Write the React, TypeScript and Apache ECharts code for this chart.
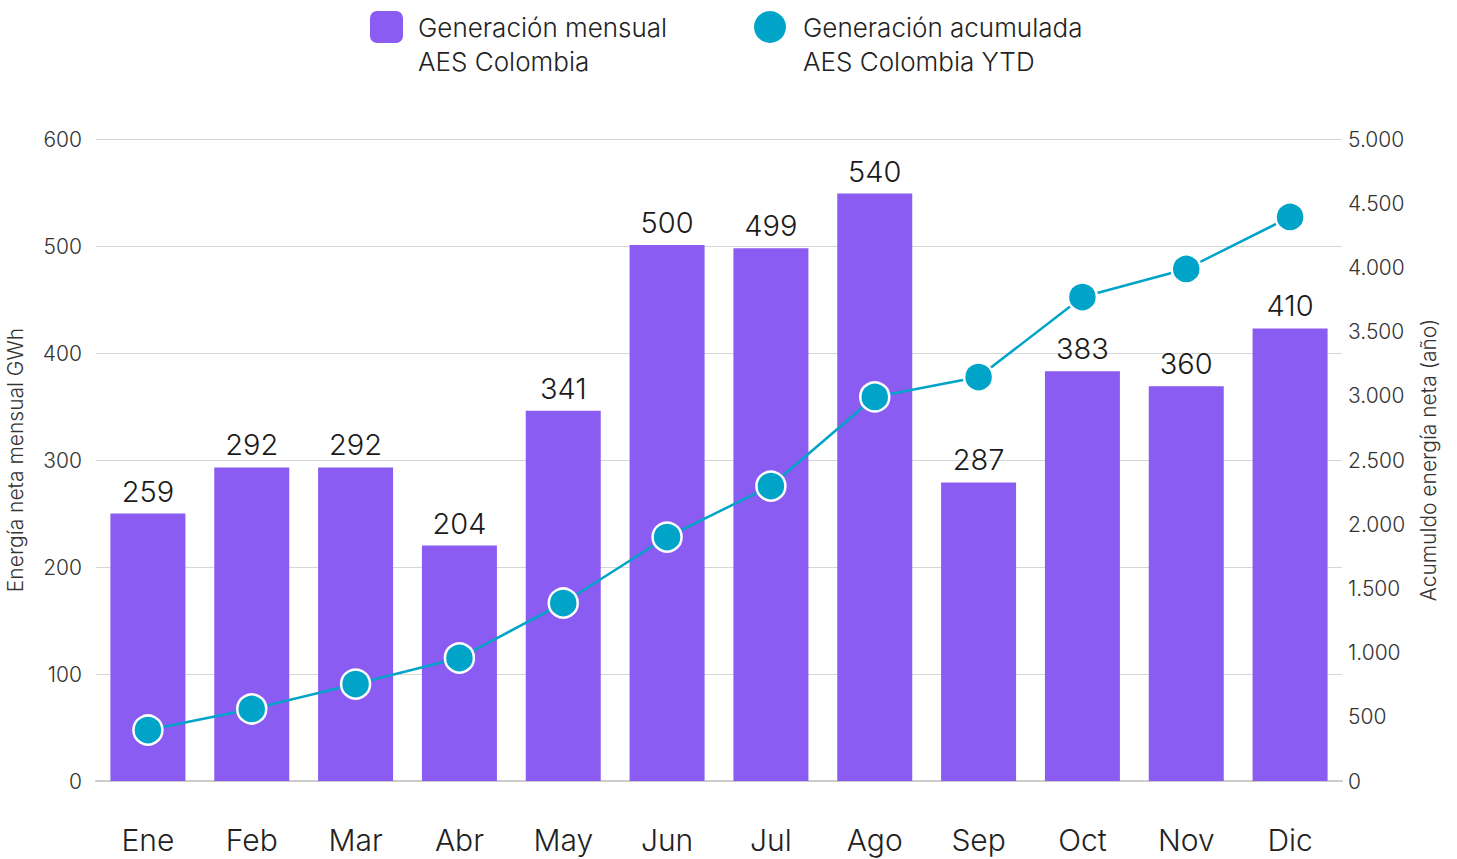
import React, { useEffect, useRef } from "react";
import * as echarts from "echarts";

const months = ["Ene", "Feb", "Mar", "Abr", "May", "Jun", "Jul", "Ago", "Sep", "Oct", "Nov", "Dic"];
// bar heights as drawn in the reference (GWh)
const monthlyBars = [250, 293, 293, 220, 346, 501, 498, 549, 279, 383, 369, 423];
// printed labels above the bars
const monthlyLabels = ["259", "292", "292", "204", "341", "500", "499", "540", "287", "383", "360", "410"];
// cumulative YTD (GWh)
const cumulative = [397, 561, 755, 958, 1386, 1900, 2297, 2991, 3146, 3769, 3988, 4393];
const leftTicks = { min: 0, max: 600, interval: 100 };
const rightTicks = { min: 0, max: 5000, interval: 500 };

const PURPLE = "#8B5CF1";
const CYAN = "#00A4C8";
const FONT = "Inter, 'Helvetica Neue', Arial, sans-serif";

export default function App() {
  const ref = useRef<HTMLDivElement>(null);
  useEffect(() => {
    document.body.style.margin = "0";
    const chart = echarts.init(ref.current!, null, { renderer: "svg" });
    chart.setOption({
      animation: false,
      textStyle: { fontFamily: FONT, fontWeight: 300 },
      grid: { left: 96, right: 115, top: 139, bottom: 78, outerBoundsMode: "none", containLabel: false },
      graphic: [
        { type: "rect", left: 370, top: 11, shape: { width: 33, height: 32, r: 7 }, style: { fill: PURPLE } },
        {
          type: "text", left: 418, top: 10,
          style: { text: "Generación mensual\nAES Colombia", fontSize: 26, lineHeight: 34, fill: "#222", fontFamily: FONT, fontWeight: 300 },
        },
        { type: "circle", shape: { cx: 770, cy: 27, r: 16 }, style: { fill: CYAN } },
        {
          type: "text", left: 803, top: 10,
          style: { text: "Generación acumulada\nAES Colombia YTD", fontSize: 26, lineHeight: 34, fill: "#222", fontFamily: FONT, fontWeight: 300 },
        },
      ],
      xAxis: {
        type: "category",
        data: months,
        axisTick: { show: false },
        axisLine: { lineStyle: { color: "#cccccc", width: 2 } },
        axisLabel: { fontSize: 30, color: "#222", margin: 44, fontFamily: FONT, fontWeight: 300 },
      },
      yAxis: [
        {
          type: "value",
          ...leftTicks,
          name: "Energía neta mensual GWh",
          nameLocation: "middle",
          nameGap: 70,
          nameTextStyle: { fontSize: 21, color: "#333", fontFamily: FONT, fontWeight: 300 },
          axisLabel: { fontSize: 21, color: "#333", margin: 14, fontFamily: FONT, fontWeight: 300 },
          splitLine: { lineStyle: { color: "#d6d6d6", width: 1 } },
          axisLine: { show: false },
          axisTick: { show: false },
        },
        {
          type: "value",
          ...rightTicks,
          name: "Acumuldo energía neta (año)",
          nameLocation: "middle",
          nameGap: 76,
          nameRotate: 90,
          nameTextStyle: { fontSize: 21, color: "#333", fontFamily: FONT, fontWeight: 300 },
          axisLabel: {
            fontSize: 21, color: "#333", margin: 6, fontFamily: FONT, fontWeight: 300,
            formatter: (v: number) => v.toString().replace(/\B(?=(\d{3})+(?!\d))/g, "."),
          },
          splitLine: { show: false },
          axisLine: { show: false },
          axisTick: { show: false },
        },
      ],
      series: [
        {
          type: "bar",
          name: "Generación mensual AES Colombia",
          data: monthlyBars,
          barWidth: 75,
          itemStyle: { color: PURPLE },
          label: {
            show: true,
            position: "top",
            distance: 8,
            fontSize: 29,
            color: "#1a1a1a",
            fontFamily: FONT,
            fontWeight: 300,
            formatter: (p: any) => monthlyLabels[p.dataIndex],
          },
        },
        {
          type: "line",
          name: "Generación acumulada AES Colombia YTD",
          yAxisIndex: 1,
          data: cumulative,
          symbol: "circle",
          symbolSize: 29,
          lineStyle: { color: CYAN, width: 2.5 },
          itemStyle: { color: CYAN, borderColor: "#fff", borderWidth: 2.5 },
          z: 5,
        },
      ],
    });
    return () => chart.dispose();
  }, []);
  return <div ref={ref} style={{ width: 1457, height: 859 }} />;
}
